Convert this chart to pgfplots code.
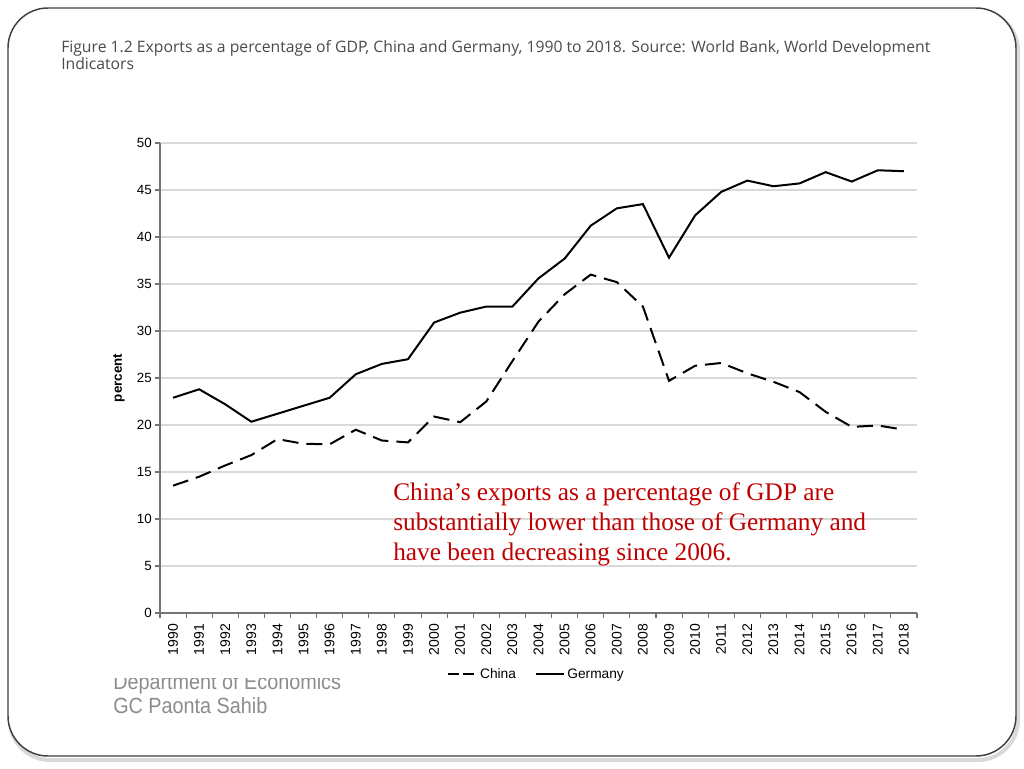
\documentclass[border=0pt]{standalone}
\usepackage{fontspec}
\setmainfont{Liberation Sans}
\newfontfamily\titlefont{Open Sans}
\newfontfamily\annotfont{Liberation Serif}
\newfontfamily\footfont[FakeStretch=0.9]{Liberation Sans}
\usepackage{pgfplots}
\pgfplotsset{compat=1.18}
\definecolor{annot}{HTML}{C00000}
\definecolor{titlegray}{HTML}{4A4A4A}
\definecolor{footgray}{HTML}{8C8C8C}
\pgfplotstableread{
year china germany
1990 13.55 22.9
1991 14.5 23.8
1992 15.7 22.2
1993 16.8 20.35
1994 18.5 21.2
1995 18.0 22.05
1996 17.95 22.9
1997 19.5 25.4
1998 18.35 26.5
1999 18.15 27.0
2000 20.9 30.9
2001 20.3 31.95
2002 22.5 32.6
2003 26.8 32.6
2004 31.0 35.6
2005 33.9 37.7
2006 36.0 41.2
2007 35.2 43.05
2008 32.6 43.5
2009 24.7 37.8
2010 26.3 42.3
2011 26.6 44.8
2012 25.5 46.0
2013 24.6 45.4
2014 23.5 45.7
2015 21.4 46.9
2016 19.8 45.9
2017 19.95 47.1
2018 19.5 47.0
}\datatable
\begin{document}
\begin{tikzpicture}
\useasboundingbox (0,0) rectangle (768pt,576pt);
\begin{scope}[shift={(0,576pt)},x=0.75pt,y=-0.75pt]
  \draw[black!15, line width=3pt, rounded corners=30pt] (10,11) rectangle (1018,760);
  \draw[fill=white, draw=black!75, line width=1.1pt, rounded corners=30pt] (8,8) rectangle (1016,756);
  \node[anchor=north west, inner sep=0pt, text=titlegray, align=left,
        font=\titlefont\fontsize{11.8}{12.9}\selectfont] at (61,40)
        {Figure 1.2 Exports as a percentage of GDP, China and Germany, 1990 to 2018. Source: World Bank, World Development\\Indicators};
  \node[anchor=base west, inner sep=0pt, text=footgray, font=\footfont\fontsize{16.5}{18}\selectfont] at (113,689) {Department of Economics};
  \node[anchor=base west, inner sep=0pt, text=footgray, font=\footfont\fontsize{16.5}{18}\selectfont] at (113,713) {GC Paonta Sahib};
  \fill[white] (95,125) rectangle (940,678);
\end{scope}
\begin{axis}[
  at={(120pt,116.25pt)}, anchor=south west,
  scale only axis, width=567.75pt, height=352.5pt,
  xmin=1989.5, xmax=2018.5, ymin=0, ymax=50,
  ytick={0,5,...,50},
  xtick={1990,...,2018},
  /pgf/number format/assume math mode=true,
  /pgf/number format/1000 sep={},
  axis x line*=bottom, axis y line*=left,
  axis line style={black!55, line width=0.8pt},
  ymajorgrids, grid style={black!15, line width=0.9pt},
  tick align=outside,
  xtick style={draw=none},
  ytick style={black!55, line width=0.8pt},
  major tick length=4pt,
  extra x ticks={1989.5,1990.5,...,2018.5},
  extra x tick labels={},
  extra x tick style={grid=none, xtick style={draw=black!55, line width=0.8pt}},
  ticklabel style={font=\fontsize{10}{11}\selectfont},
  xticklabel style={rotate=90, anchor=east, inner sep=1pt, font=\fontsize{10.5}{11}\selectfont},
  xticklabel shift=3pt,
  yticklabel style={inner sep=2pt},
  ylabel={\bfseries percent},
  ylabel style={font=\fontsize{10}{12}\selectfont, at={(ticklabel* cs:0.5)}, anchor=south, yshift=23pt},
  legend style={at={(0.498,-0.13)}, anchor=center, draw=none, fill=none,
    legend columns=2, font=\fontsize{10.3}{11}\selectfont,
    nodes={text height=1.6ex, text depth=0.4ex},
    /tikz/every even column/.append style={column sep=12pt}},
  legend image code/.code={\draw[#1] (0pt,0pt) -- (21pt,0pt);},
  clip=false,
]
\addplot[black, line width=1.5pt, dash pattern=on 12pt off 6pt, legend image post style={dash pattern=on 8pt off 3pt}] table[x=year, y=china] {\datatable};
\addlegendentry{China}
\addplot[black, line width=1.5pt] table[x=year, y=germany] {\datatable};
\addlegendentry{Germany}
\end{axis}
\begin{scope}[shift={(0,576pt)},x=0.75pt,y=-0.75pt]
  \node[anchor=base west, inner sep=0pt, text=annot, align=left,
        font=\annotfont\fontsize{19}{22.5}\selectfont] at (393,560)
        {China’s exports as a percentage of GDP are\\substantially lower than those of Germany and\\have been decreasing since 2006.};
\end{scope}
\end{tikzpicture}
\end{document}
